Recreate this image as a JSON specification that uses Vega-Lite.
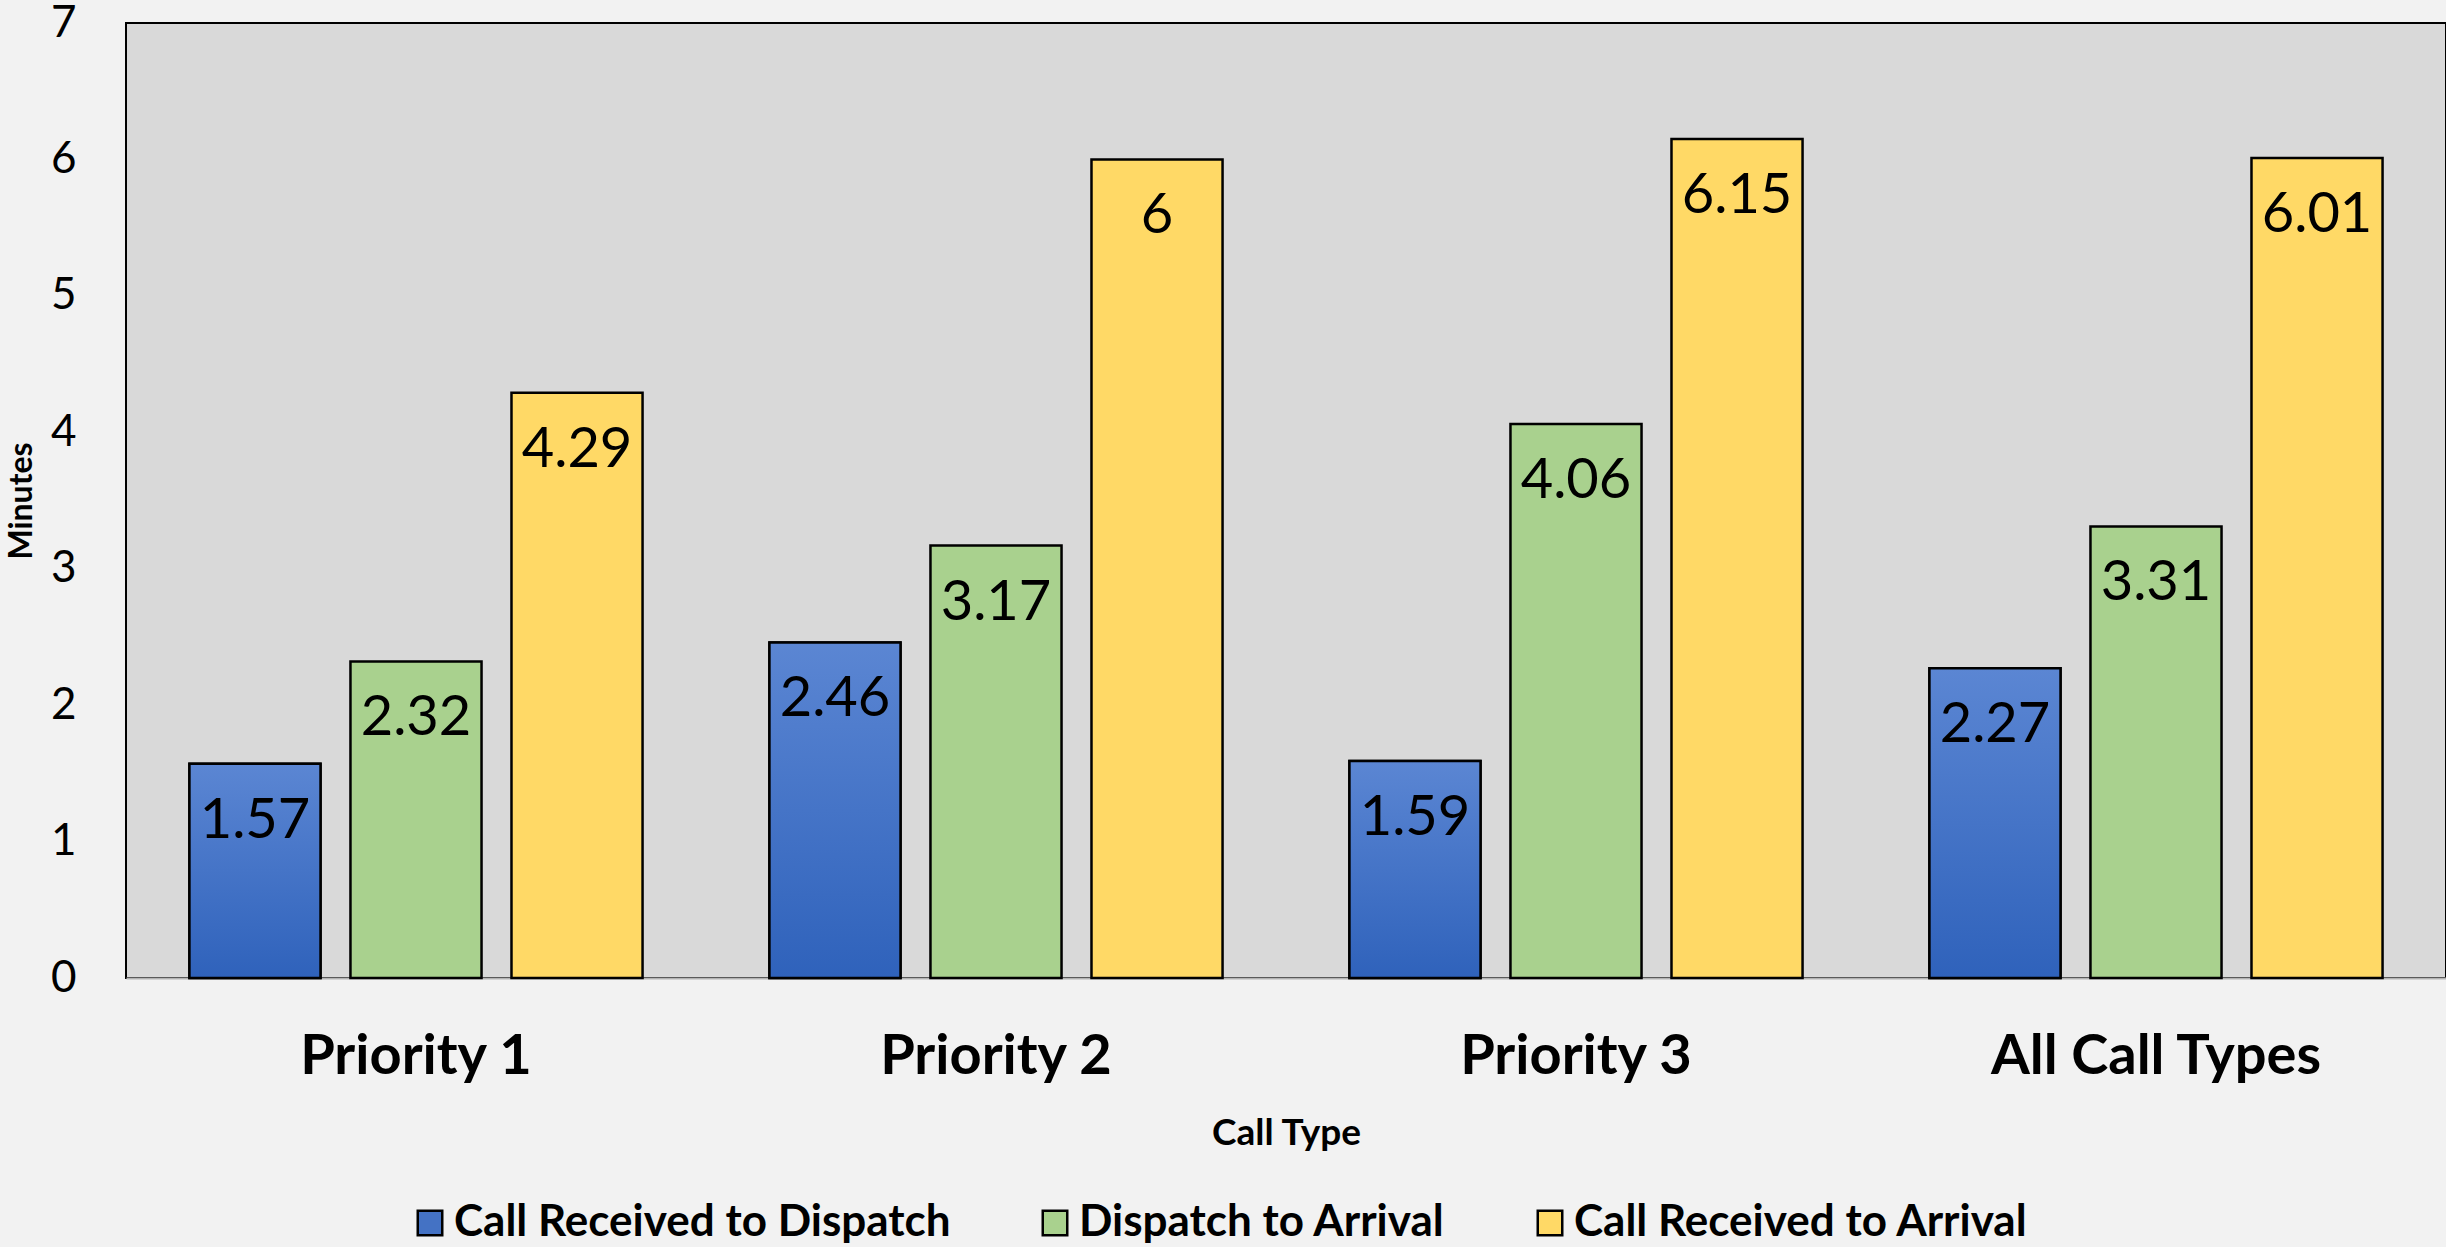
{
  "$schema": "https://vega.github.io/schema/vega-lite/v6.json",
  "width": 2320,
  "height": 955,
  "autosize": {"type": "none"},
  "padding": {"left": 126, "top": 23, "right": 0, "bottom": 269},
  "background": "#f2f2f2",
  "view": {"fill": "#d9d9d9", "stroke": "#000000", "strokeWidth": 2},
  "config": {"font": "Lato"},
  "data": {
    "values": [
      {"category": "Priority 1", "series": "Call Received to Dispatch", "value": 1.57},
      {"category": "Priority 1", "series": "Dispatch to Arrival", "value": 2.32},
      {"category": "Priority 1", "series": "Call Received to Arrival", "value": 4.29},
      {"category": "Priority 2", "series": "Call Received to Dispatch", "value": 2.46},
      {"category": "Priority 2", "series": "Dispatch to Arrival", "value": 3.17},
      {"category": "Priority 2", "series": "Call Received to Arrival", "value": 6},
      {"category": "Priority 3", "series": "Call Received to Dispatch", "value": 1.59},
      {"category": "Priority 3", "series": "Dispatch to Arrival", "value": 4.06},
      {"category": "Priority 3", "series": "Call Received to Arrival", "value": 6.15},
      {"category": "All Call Types", "series": "Call Received to Dispatch", "value": 2.27},
      {"category": "All Call Types", "series": "Dispatch to Arrival", "value": 3.31},
      {"category": "All Call Types", "series": "Call Received to Arrival", "value": 6.01}
    ]
  },
  "encoding": {
    "x": {
      "field": "category",
      "type": "nominal",
      "sort": ["Priority 1", "Priority 2", "Priority 3", "All Call Types"],
      "scale": {"paddingInner": 0, "paddingOuter": 0},
      "axis": {
        "title": "Call Type",
        "labelAngle": 0,
        "labelFont": "Lato",
        "labelFontWeight": "bold",
        "labelFontSize": 56,
        "labelColor": "#000000",
        "labelPadding": 51,
        "labelLimit": 1000,
        "ticks": false,
        "domainColor": "#b3b3b3",
        "domainWidth": 2,
        "titleFont": "Lato",
        "titleFontSize": 37,
        "titleFontWeight": "bold",
        "titleColor": "#000000",
        "titlePadding": 31
      }
    },
    "xOffset": {
      "field": "series",
      "type": "nominal",
      "scale": {
        "domain": ["Call Received to Dispatch", "Dispatch to Arrival", "Call Received to Arrival"],
        "paddingInner": 0.186,
        "paddingOuter": 0.394
      }
    },
    "y": {
      "field": "value",
      "type": "quantitative",
      "scale": {"domain": [0, 7], "nice": false},
      "axis": {
        "title": "Minutes",
        "values": [0, 1, 2, 3, 4, 5, 6, 7],
        "grid": false,
        "domain": false,
        "ticks": false,
        "labelFont": "Lato",
        "labelFontSize": 44,
        "labelColor": "#000000",
        "labelPadding": 50,
        "titleFont": "Lato",
        "titleFontSize": 32,
        "titleFontWeight": "bold",
        "titleColor": "#000000",
        "titlePadding": 12
      }
    }
  },
  "layer": [
    {
      "mark": {"type": "bar", "stroke": "#000000", "strokeWidth": 2.5},
      "encoding": {
        "color": {
          "field": "series",
          "type": "nominal",
          "scale": {
            "domain": ["Call Received to Dispatch", "Dispatch to Arrival", "Call Received to Arrival"],
            "range": ["#4472c4", "#a9d18e", "#ffd966"]
          },
          "legend": {
            "title": null,
            "orient": "none",
            "direction": "horizontal",
            "legendX": 282,
            "legendY": 1178,
            "symbolType": "square",
            "symbolSize": 600,
            "symbolStrokeColor": "#000000",
            "symbolStrokeWidth": 2.5,
            "symbolOpacity": 1,
            "labelFont": "Lato",
            "labelFontSize": 44,
            "labelFontWeight": "bold",
            "labelColor": "#000000",
            "labelLimit": 900,
            "labelOffset": 2,
            "columnPadding": 82
          }
        }
      }
    },
    {
      "transform": [{"filter": "datum.series === 'Call Received to Dispatch'"}],
      "mark": {
        "type": "bar",
        "stroke": "#000000",
        "strokeWidth": 2.5,
        "color": {
          "gradient": "linear",
          "x1": 0, "y1": 0, "x2": 0, "y2": 1,
          "stops": [
            {"offset": 0, "color": "#5b86d3"},
            {"offset": 1, "color": "#2f62bb"}
          ]
        }
      }
    },
    {
      "mark": {"type": "text", "baseline": "alphabetic", "align": "center", "dy": 74, "fontSize": 56, "font": "Lato", "color": "#000000"},
      "encoding": {
        "text": {"field": "value", "type": "quantitative"}
      }
    }
  ]
}
